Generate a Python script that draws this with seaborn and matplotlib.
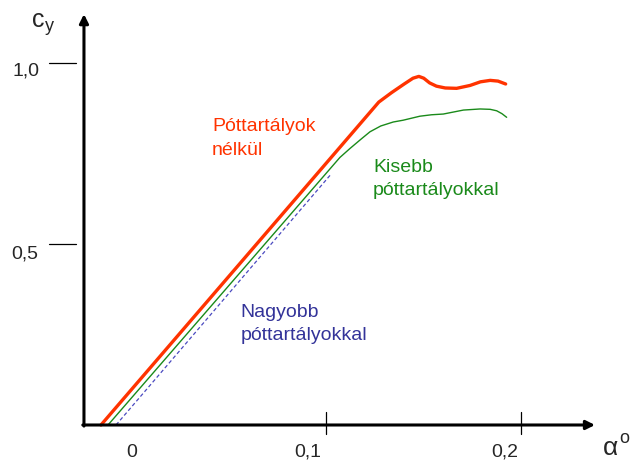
import matplotlib
matplotlib.use("Agg")
import matplotlib.pyplot as plt
import seaborn as sns

sns.set_style("white")
plt.rcParams["font.family"] = ["Liberation Sans", "DejaVu Sans"]

# ---------------------------------------------------------
# Data (alpha vs c_y)
# ---------------------------------------------------------
red_alpha = [-0.0151, 0.127, 0.1335, 0.140, 0.1445, 0.1475, 0.150, 0.153,
             0.1565, 0.161, 0.1668, 0.1737, 0.179, 0.184, 0.188, 0.1919]
red_cy = [0.0, 0.892, 0.918, 0.942, 0.958, 0.963, 0.958, 0.945,
          0.936, 0.931, 0.930, 0.938, 0.948, 0.952, 0.950, 0.942]

green_alpha = [-0.0115, 0.1071, 0.1123, 0.118, 0.1225, 0.128, 0.1344, 0.1395,
               0.148, 0.154, 0.160, 0.1703, 0.1788, 0.184, 0.1873, 0.190,
               0.1924]
green_cy = [0.0, 0.739, 0.764, 0.790, 0.810, 0.826, 0.837, 0.842,
            0.853, 0.857, 0.859, 0.870, 0.873, 0.872, 0.868, 0.860,
            0.850]

blue_alpha = [-0.0074, 0.1026]
blue_cy = [0.0, 0.693]

xtick_values = [0.1, 0.2]
xtick_labels = ["0", "0,1", "0,2"]
xlabel_pos = [0.0008, 0.0905, 0.1915]
ytick_values = [1.0, 0.5]
ytick_labels = ["1,0", "0,5"]

red = "#FF3300"
green = "#1A8A1A"
blue_line = "#4A4AC0"
blue_text = "#333399"

# ---------------------------------------------------------
# Figure: one axes covering the whole canvas
# ---------------------------------------------------------
fig = plt.figure(figsize=(6.3, 4.64), dpi=100)
ax = fig.add_axes([0, 0, 1, 1])
ax.set_xlim(-0.06675, 0.2555)
ax.set_ylim(-0.105, 1.1768)
ax.axis("off")

# axes with arrow heads
x0 = -0.0238
arrow = dict(arrowstyle="-|>", lw=2.2, color="black", mutation_scale=13,
             shrinkA=0, shrinkB=0)
ax.annotate("", xy=(0.2376, 0), xytext=(x0 - 0.0006, 0), arrowprops=arrow)
ax.annotate("", xy=(x0, 1.135), xytext=(x0, -0.003), arrowprops=arrow)

# tick marks
for v in xtick_values:
    ax.plot([v, v], [-0.025, 0.036], color="black", lw=0.9)
for v in ytick_values:
    ax.plot([-0.0417, -0.0279], [v, v], color="black", lw=0.9)

# curves
sns.lineplot(x=red_alpha, y=red_cy, ax=ax, color=red, lw=2.4,
             solid_capstyle="round")
sns.lineplot(x=green_alpha, y=green_cy, ax=ax, color=green, lw=1.0)
sns.lineplot(x=blue_alpha, y=blue_cy, ax=ax, color=blue_line, lw=0.9,
             linestyle=(0, (3, 2)))

# tick labels
for lab, pos in zip(xtick_labels, xlabel_pos):
    ax.text(pos, -0.0856, lab, fontsize=14, ha="center", va="baseline")
ax.text(-0.0463, 0.967, ytick_labels[0], fontsize=14, ha="right", va="baseline")
ax.text(-0.0473, 0.464, ytick_labels[1], fontsize=14, ha="right", va="baseline")

# axis names
ax.text(-0.0504, 1.102, "c", fontsize=18, ha="left", va="baseline")
ax.text(-0.0438, 1.091, "y", fontsize=13, ha="left", va="baseline")
ax.text(0.2417, -0.080, "α", fontsize=19, ha="left", va="baseline")
ax.text(0.2502, -0.047, "o", fontsize=13, ha="left", va="baseline")

# curve labels
ax.text(0.0417, 0.815, "Póttartályok", fontsize=14, color=red, va="baseline")
ax.text(0.0417, 0.749, "nélkül", fontsize=14, color=red, va="baseline")
ax.text(0.124, 0.7017, "Kisebb", fontsize=14, color=green, va="baseline")
ax.text(0.124, 0.638, "póttartályokkal", fontsize=14, color=green, va="baseline")
ax.text(0.0564, 0.301, "Nagyobb", fontsize=14, color=blue_text, va="baseline")
ax.text(0.0564, 0.2376, "póttartályokkal", fontsize=14, color=blue_text, va="baseline")

fig.savefig("out.png", dpi=100)
